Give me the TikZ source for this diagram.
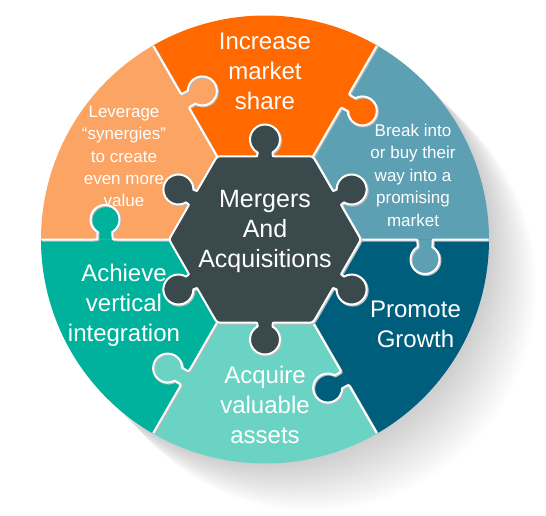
\documentclass[tikz,border=0pt]{standalone}
\usepackage{fontspec}
\setmainfont{Liberation Sans}
\usetikzlibrary{calc}
\definecolor{cOrange}{RGB}{255,105,0}
\definecolor{cLightOrange}{RGB}{251,164,100}
\definecolor{cSteel}{RGB}{93,160,180}
\definecolor{cNavy}{RGB}{0,94,125}
\definecolor{cAqua}{RGB}{106,211,196}
\definecolor{cGreen}{RGB}{0,177,155}
\definecolor{cHub}{RGB}{58,74,76}
\definecolor{cEdgeShade}{RGB}{185,185,185}
\tikzset{
  bigtxt/.style={text=white, align=center, inner sep=0pt, font=\fontsize{24}{30}\selectfont},
  hubtxt/.style={text=white, align=center, inner sep=0pt, font=\fontsize{25}{30}\selectfont},
  smalltxt/.style={text=white, align=center, inner sep=0pt, font=\fontsize{17}{22.4}\selectfont},
  sepline/.style={white, line width=2pt},
  sepshade/.style={cEdgeShade, line width=2.2pt},
}
\def\knobcurve{(148.5,0) .. controls (152.5,0) .. (152.5,-3.5) -- (152.5,-7.59) arc[start angle=121.14, end angle=418.86, radius=14.5] -- (167.5,-3.5) .. controls (167.5,0) .. (171.5,0)}
\def\hubpath{($(0:96)+(120:6)$) \foreach \p in {30,90,...,330}{ -- ($(\p:83.14)+(\p+90:-11.5)$) .. controls ($(\p:83.14)+(\p+90:-7.5)$) .. ($(\p:85.5)+(\p+90:-7.5)$) -- ($(\p:87.01)+(\p+90:-7.5)$) arc[start angle=\p+210, end angle=\p+510, radius=15] -- ($(\p:85.5)+(\p+90:7.5)$) .. controls ($(\p:83.14)+(\p+90:7.5)$) .. ($(\p:83.14)+(\p+90:11.5)$) -- ($(\p+30:96)+(\p+90:-6)$) .. controls (\p+30:96) .. ($(\p+30:96)+(\p+150:6)$) } -- cycle}
\begin{document}
\begin{tikzpicture}[x=1pt,y=1pt]
\useasboundingbox (-265,-275.5) rectangle (281,239.5);
% soft shadow
\foreach \i in {1,...,48} \fill[black,opacity=0.0042] (\i,-\i) circle[radius=224];
% sectors
\foreach \a/\c in {0/cSteel,60/cOrange,120/cLightOrange,180/cGreen,240/cAqua,300/cNavy}
  \fill[\c] (0,0) -- (\a:224) arc[start angle=\a, end angle=\a+60, radius=224] -- cycle;
% knobs
\foreach \a/\c in {0/cSteel,60/cOrange,120/cLightOrange,180/cGreen,240/cAqua,300/cNavy}
  \fill[\c, rotate=\a] \knobcurve -- cycle;
% separators
\foreach \a in {0,60,...,300}{
  \draw[sepshade, xshift=0.9pt, yshift=-0.9pt, rotate=\a] (96,0) -- \knobcurve -- (223.5,0);
  \draw[sepline, rotate=\a] (96,0) -- \knobcurve -- (223.5,0);
}
% hub
\draw[cEdgeShade, line width=2.2pt, xshift=1pt, yshift=-1pt] \hubpath;
\filldraw[fill=cHub, draw=white, line width=2pt] \hubpath;
% texts
\node[bigtxt] (tShare) at (0,168.1) {Increase\\market\\share};
\node[smalltxt] (tLev) at (-141,83.1) {Leverage\\“synergies”\\to create\\even more\\value};
\node[smalltxt] (tBreak) at (148,64.2) {Break into\\or buy their\\way into a\\promising\\market};
\node[hubtxt] (tHub) at (0,7.8) {Mergers\\And\\Acquisitions};
\node[bigtxt] (tVert) at (-141,-65.6) {Achieve\\vertical\\integration};
\node[bigtxt] (tGrowth) at (150.5,-84.9) {Promote\\Growth};
\node[bigtxt] (tAssets) at (0,-165.4) {Acquire\\valuable\\assets};
\end{tikzpicture}
\end{document}
